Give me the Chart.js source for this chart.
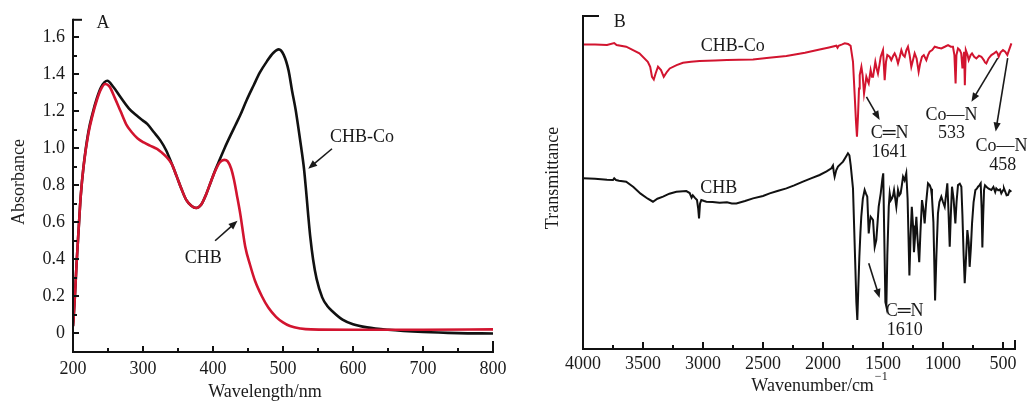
<!DOCTYPE html>
<html><head><meta charset="utf-8">
<script src="https://cdn.jsdelivr.net/npm/chart.js@4.4.1/dist/chart.umd.min.js"></script>
<style>
html,body{margin:0;padding:0;background:#fff;width:1028px;height:402px;overflow:hidden}
canvas{position:absolute;top:0}
#cA{left:0}
#cB{left:520px}
</style></head><body>
<canvas id="cA" width="520" height="402"></canvas>
<canvas id="cB" width="508" height="402"></canvas>
<script>
// ---------- Panel A: UV-vis ----------
const uvWavelengthCHB = [200,201,203,205,208,211,215,222,228,234,240,246,252,260,268,276,284,292,301,310,320,326,332,341,348,355,362,369,376,383,390,397,404,410,416,421,426,430,434,439,446,453,460,470,479,490,500,510,525,540,600,700,800];
const uvAbsCHB        = [0.04,0.09,0.22,0.37,0.56,0.74,0.90,1.08,1.18,1.26,1.32,1.348,1.335,1.27,1.20,1.13,1.087,1.055,1.032,1.015,0.997,0.98,0.96,0.916,0.85,0.78,0.72,0.69,0.678,0.695,0.75,0.82,0.885,0.925,0.938,0.93,0.89,0.83,0.75,0.645,0.47,0.37,0.285,0.20,0.14,0.09,0.06,0.04,0.027,0.022,0.02,0.02,0.022];
const uvWavelengthCHBCo = [200,201,203,205,208,211,215,222,228,234,240,249,258,268,280,291,300,306,315,325,333,341,348,355,362,369,376,383,390,397,404,409,417,425,432,439,448,458,467,477,486,494,501,508,513,518,522,526,530,533,536,539,543,548,556,563,572,585,600,620,650,700,750,800];
const uvAbsCHBCo        = [0.04,0.09,0.22,0.37,0.56,0.74,0.90,1.09,1.19,1.27,1.33,1.365,1.33,1.276,1.215,1.177,1.15,1.132,1.09,1.042,0.99,0.918,0.85,0.78,0.72,0.69,0.678,0.695,0.75,0.82,0.89,0.934,1.005,1.07,1.125,1.18,1.26,1.34,1.41,1.47,1.515,1.535,1.505,1.42,1.31,1.21,1.11,1.005,0.89,0.77,0.64,0.52,0.40,0.295,0.195,0.15,0.115,0.075,0.05,0.033,0.02,0.008,0.002,0.0];
const uvXTicks = [200,300,400,500,600,700,800];
const uvYTicks = [0,0.2,0.4,0.6,0.8,1.0,1.2,1.4,1.6];

// ---------- Panel B: FTIR ----------
const irWaveCHBCo  = [4000,3900,3800,3740,3720,3640,3530,3460,3440,3425,3410,3395,3375,3350,3327,3300,3277,3220,3167,3100,3028,2900,2800,2700,2583,2450,2305,2150,2028,1950,1889,1879,1870,1840,1819,1790,1770,1750,1736,1725,1717,1708,1700,1694,1680,1670,1658,1648,1639,1630,1619,1603,1592,1583,1564,1553,1542,1530,1519,1500,1486,1475,1464,1445,1431,1415,1403,1390,1375,1360,1347,1333,1319,1305,1292,1278,1264,1250,1236,1220,1203,1190,1175,1160,1139,1125,1111,1090,1069,1040,1014,985,958,935,917,905,895,888,875,860,848,838,832,824,818,810,795,786,770,758,740,722,700,680,660,650,639,620,597,575,556,545,536,520,500,482,464,450,430];
const irTransCHBCo = [91.2,91.2,91.0,91.6,91.0,90.5,88.5,86.0,84.5,81.5,80.7,82.5,84.5,83.5,81.5,83,84,85,85.7,86.0,86.2,86.4,86.5,86.6,86.7,87.2,87.7,88.7,89.7,90.3,90.8,90.2,90.8,91.2,91.5,91.3,90.8,86,76,68,63.6,70,78,82,84.5,82,76.5,79,81.5,80.5,79.5,83.5,81.5,81.5,86,84,82.5,85,87.5,89.5,80.5,86,88,87.5,86.5,87.8,88.5,87.5,85.5,87.5,89.5,88,87.5,89.5,90.5,88,84.5,86.5,88.5,87,83,85.5,87.5,88,86.5,88,89,89.5,90.5,90.2,90,90.5,91,90.5,90.5,88,79.5,88,90,89.5,88.5,84,86,89,79,89.5,88,86.5,88,88.5,87.5,87,87.8,87.5,86.5,85.8,85.5,87,88,88.5,89,88.5,87.5,88.8,89.5,89,88,89.5,91.5];
const irWaveCHB  = [4000,3900,3800,3750,3740,3725,3700,3640,3580,3520,3460,3417,3380,3333,3280,3222,3139,3111,3095,3085,3069,3050,3040,3033,3025,3014,2990,2972,2920,2861,2800,2760,2722,2650,2583,2500,2444,2380,2305,2240,2167,2100,2028,1970,1930,1917,1910,1903,1890,1875,1850,1833,1810,1792,1780,1769,1750,1740,1730,1722,1714,1706,1697,1688,1681,1668,1653,1642,1631,1619,1611,1603,1590,1583,1569,1556,1545,1536,1519,1505,1498,1490,1480,1472,1464,1452,1444,1435,1425,1416,1408,1398,1389,1382,1375,1364,1353,1343,1333,1320,1306,1295,1280,1270,1260,1250,1242,1232,1222,1212,1198,1188,1175,1164,1153,1140,1125,1110,1100,1092,1080,1072,1066,1055,1042,1030,1014,1000,986,975,964,955,944,935,925,912,897,887,875,860,847,838,828,819,810,797,786,778,768,758,745,730,718,708,697,686,678,672,665,658,650,639,620,597,580,565,556,540,525,514,500,492,480,470,458,445,430];
const irTransCHB = [51.1,51.0,50.7,50.6,51.1,50.6,50.4,50.1,48.5,46.5,45.0,44.1,45.0,45.6,46.5,47.1,47.3,46.7,45.3,46.0,45.3,44.6,42,39.1,43.5,44.6,44.3,44.1,44.0,43.8,43.9,43.6,43.6,44.3,45.1,45.8,46.6,47.3,48.1,49.0,50.1,51.1,52.1,53.2,54.1,54.9,53,51.6,53.5,54.6,55.5,56.1,57.5,58.6,58,55,48,36,24,14,8.7,18,27.6,35,39.6,45,47.6,46.5,45.6,34.6,37.5,39.6,39,38.6,30.6,32.6,38,42.6,46.6,51,52.6,35,14,12.7,28,42.6,46.6,44.5,45.1,46,47.6,45,42.6,45,47.6,46,46.6,49,51.6,50.5,52.6,45,22,34,42.6,37,29,34,39.6,33,26,35,44.6,42,37.6,44,49.6,49,48,45.6,38,25,14.5,28,40.6,44,45.6,44,42.6,46,49.6,42,30.6,40,48.6,45,37.6,44,49.1,49.5,48.6,40,28,19.7,26,35.6,32,24.6,30,37.6,44,47.6,48,48.6,49,49.6,42,30.4,40,47.6,49,48.6,48,47.6,48.5,47,48.1,47.5,47.8,46.6,47.5,48.1,47,46,46.1,47.5,47.1];
const irXTicks = [4000,3500,3000,2500,2000,1500,1000,500];

const FONT = "'Liberation Serif', 'Times New Roman', 'DejaVu Serif', serif";
const RED = '#d2142f';
const BLACK = '#111111';
const INK = '#1a1a1a';
Chart.defaults.font.family = FONT;
Chart.defaults.font.size = 18;
Chart.defaults.color = INK;

function pts(xs, ys) { return xs.map((x, i) => ({ x: x, y: ys[i] })); }

function txt(ctx, s, x, y, size, align) {
  ctx.font = size + 'px ' + FONT;
  ctx.textAlign = align || 'center';
  ctx.textBaseline = 'middle';
  ctx.fillStyle = INK;
  ctx.fillText(s, x, y);
}
function arrow(ctx, x1, y1, x2, y2) {
  const ang = Math.atan2(y2 - y1, x2 - x1);
  const hl = 9, hw = 3.6;
  ctx.strokeStyle = INK; ctx.fillStyle = INK; ctx.lineWidth = 1.6;
  ctx.beginPath(); ctx.moveTo(x1, y1);
  ctx.lineTo(x2 - Math.cos(ang) * hl * 0.8, y2 - Math.sin(ang) * hl * 0.8); ctx.stroke();
  ctx.beginPath();
  ctx.moveTo(x2, y2);
  ctx.lineTo(x2 - Math.cos(ang) * hl - Math.sin(ang) * hw, y2 - Math.sin(ang) * hl + Math.cos(ang) * hw);
  ctx.lineTo(x2 - Math.cos(ang) * hl + Math.sin(ang) * hw, y2 - Math.sin(ang) * hl - Math.cos(ang) * hw);
  ctx.closePath(); ctx.fill();
}
function vline(ctx, x, y1, y2) { ctx.beginPath(); ctx.moveTo(x, y1); ctx.lineTo(x, y2); ctx.stroke(); }
function hline(ctx, y, x1, x2) { ctx.beginPath(); ctx.moveTo(x1, y); ctx.lineTo(x2, y); ctx.stroke(); }

// ---------- Chart A ----------
const framePluginA = {
  id: 'frameA',
  afterDraw(chart) {
    const ctx = chart.ctx, a = chart.chartArea, X = chart.scales.x, Y = chart.scales.y;
    ctx.save();
    ctx.strokeStyle = BLACK; ctx.lineWidth = 2; ctx.lineCap = 'butt';
    ctx.beginPath(); ctx.moveTo(a.left, a.top); ctx.lineTo(a.left, a.bottom + 1); ctx.stroke();
    ctx.beginPath(); ctx.moveTo(a.left - 1, a.bottom); ctx.lineTo(a.right + 1, a.bottom); ctx.stroke();
    hline(ctx, a.top + 1, a.left, a.left + 9);
    vline(ctx, a.right, a.bottom, a.bottom - 11);
    for (let i = 0; i <= 16; i++) {
      const y = Math.round(Y.getPixelForValue(i / 10));
      hline(ctx, y, a.left, a.left + (i % 2 === 0 ? 6 : 4));
    }
    for (let v = 250; v < 800; v += 50) {
      const x = Math.round(X.getPixelForValue(v));
      vline(ctx, x, a.bottom, a.bottom - (v % 100 === 0 ? 6 : 4));
    }
    txt(ctx, 'A', X.getPixelForValue(243), Y.getPixelForValue(1.675), 18);
    txt(ctx, 'CHB-Co', X.getPixelForValue(613), Y.getPixelForValue(1.058), 18);
    arrow(ctx, X.getPixelForValue(570), Y.getPixelForValue(0.998), X.getPixelForValue(536), Y.getPixelForValue(0.89));
    txt(ctx, 'CHB', X.getPixelForValue(386), Y.getPixelForValue(0.409), 18);
    arrow(ctx, X.getPixelForValue(403), Y.getPixelForValue(0.501), X.getPixelForValue(435), Y.getPixelForValue(0.609));
    txt(ctx, 'Wavelength/nm', 265, 392, 18);
    ctx.save(); ctx.translate(19, 182); ctx.rotate(-Math.PI / 2);
    txt(ctx, 'Absorbance', 0, 0, 18); ctx.restore();
    ctx.restore();
  }
};

new Chart(document.getElementById('cA'), {
  type: 'line',
  data: {
    datasets: [
      { label: 'CHB', data: pts(uvWavelengthCHB, uvAbsCHB), borderColor: RED, borderWidth: 2.6, pointRadius: 0, cubicInterpolationMode: 'monotone', fill: false },
      { label: 'CHB-Co', data: pts(uvWavelengthCHBCo, uvAbsCHBCo), borderColor: BLACK, borderWidth: 2.6, pointRadius: 0, cubicInterpolationMode: 'monotone', fill: false }
    ]
  },
  options: {
    responsive: false, animation: false, devicePixelRatio: 1,
    layout: { padding: { top: 18, right: 27, left: 0, bottom: 0 } },
    plugins: { legend: { display: false }, tooltip: { enabled: false } },
    scales: {
      x: {
        type: 'linear', min: 200, max: 800,
        grid: { display: false, drawTicks: false }, border: { display: false },
        afterBuildTicks: s => { s.ticks = uvXTicks.map(v => ({ value: v })); },
        afterFit: s => { s.height = 50; },
        ticks: { padding: 6, maxRotation: 0, autoSkip: false, color: INK, font: { size: 18 }, callback: v => String(v) }
      },
      y: {
        type: 'linear', min: -0.1, max: 1.7,
        grid: { display: false, drawTicks: false }, border: { display: false },
        afterBuildTicks: s => { s.ticks = uvYTicks.map(v => ({ value: v })); },
        afterFit: s => { s.width = 73; },
        ticks: { padding: 8, autoSkip: false, color: INK, font: { size: 18 }, callback: v => (v === 0 ? '0' : Number(v).toFixed(1)) }
      }
    }
  },
  plugins: [framePluginA]
});

// ---------- Chart B ----------
const framePluginB = {
  id: 'frameB',
  afterDraw(chart) {
    const ctx = chart.ctx, a = chart.chartArea, X = chart.scales.x, Y = chart.scales.y;
    ctx.save();
    ctx.strokeStyle = BLACK; ctx.lineWidth = 2;
    ctx.beginPath(); ctx.moveTo(a.left, a.top); ctx.lineTo(a.left, a.bottom + 1); ctx.stroke();
    ctx.beginPath(); ctx.moveTo(a.left - 1, a.bottom); ctx.lineTo(a.right + 1, a.bottom); ctx.stroke();
    hline(ctx, a.top + 1, a.left, a.left + 16);
    vline(ctx, a.right, a.bottom, a.bottom - 9);
    for (let v = 3750; v >= 500; v -= 250) {
      const x = Math.round(X.getPixelForValue(v));
      vline(ctx, x, a.bottom, a.bottom - (v % 500 === 0 ? 7 : 4));
    }
    const P = (w, t) => [X.getPixelForValue(w), Y.getPixelForValue(t)];
    let p, q;
    p = P(3694, 97.9); txt(ctx, 'B', p[0], p[1], 18);
    p = P(2753, 90.7); txt(ctx, 'CHB-Co', p[0], p[1], 18);
    p = P(2869, 48.2); txt(ctx, 'CHB', p[0], p[1], 18);
    p = P(1638, 75.5); q = P(1528, 68.6); arrow(ctx, p[0], p[1], q[0], q[1]);
    p = P(1445, 64.7); txt(ctx, 'C\u2550N', p[0], p[1], 18);
    p = P(1445, 59.0); txt(ctx, '1641', p[0], p[1], 18);
    p = P(544, 87.1); q = P(763, 74.0); arrow(ctx, p[0], p[1], q[0], q[1]);
    p = P(930, 70.1); txt(ctx, 'Co\u2014N', p[0], p[1], 18);
    p = P(930, 64.7); txt(ctx, '533', p[0], p[1], 18);
    p = P(461, 87.1); q = P(561, 65.1); arrow(ctx, p[0], p[1], q[0], q[1]);
    p = P(513, 60.6); txt(ctx, 'Co\u2014N', p[0], p[1], 18);
    p = P(502, 55.1); txt(ctx, '458', p[0], p[1], 18);
    p = P(1619, 25.7); q = P(1528, 15.3); arrow(ctx, p[0], p[1], q[0], q[1]);
    p = P(1319, 11.2); txt(ctx, 'C\u2550N', p[0], p[1], 18);
    p = P(1319, 5.7); txt(ctx, '1610', p[0], p[1], 18);
    ctx.font = '18px ' + FONT;
    const main = 'Wavenumber/cm';
    const w1 = ctx.measureText(main).width;
    ctx.font = '12px ' + FONT;
    const sup = '\u22121';
    const w2 = ctx.measureText(sup).width;
    const x0 = 299 - (w1 + w2) / 2;
    txt(ctx, main, x0, 386, 18, 'left');
    txt(ctx, sup, x0 + w1 + 1, 377, 12, 'left');
    ctx.save(); ctx.translate(33, 178); ctx.rotate(-Math.PI / 2);
    txt(ctx, 'Transmittance', 0, 0, 18); ctx.restore();
    ctx.restore();
  }
};

new Chart(document.getElementById('cB'), {
  type: 'line',
  data: {
    datasets: [
      { label: 'CHB-Co', data: pts(irWaveCHBCo, irTransCHBCo), borderColor: RED, borderWidth: 2, pointRadius: 0, tension: 0, fill: false },
      { label: 'CHB', data: pts(irWaveCHB, irTransCHB), borderColor: BLACK, borderWidth: 2, pointRadius: 0, tension: 0, fill: false }
    ]
  },
  options: {
    responsive: false, animation: false, devicePixelRatio: 1,
    layout: { padding: { top: 15, right: 13, left: 0, bottom: 0 } },
    plugins: { legend: { display: false }, tooltip: { enabled: false } },
    scales: {
      x: {
        type: 'linear', min: 400, max: 4000, reverse: true,
        grid: { display: false, drawTicks: false }, border: { display: false },
        afterBuildTicks: s => { s.ticks = irXTicks.map(v => ({ value: v })); },
        afterFit: s => { s.height = 53; },
        ticks: { padding: 4, maxRotation: 0, autoSkip: false, color: INK, font: { size: 18 }, callback: v => String(v) }
      },
      y: {
        type: 'linear', min: 0, max: 100,
        grid: { display: false, drawTicks: false }, border: { display: false },
        afterFit: s => { s.width = 63; },
        ticks: { display: false }
      }
    }
  },
  plugins: [framePluginB]
});
</script>
</body></html>
